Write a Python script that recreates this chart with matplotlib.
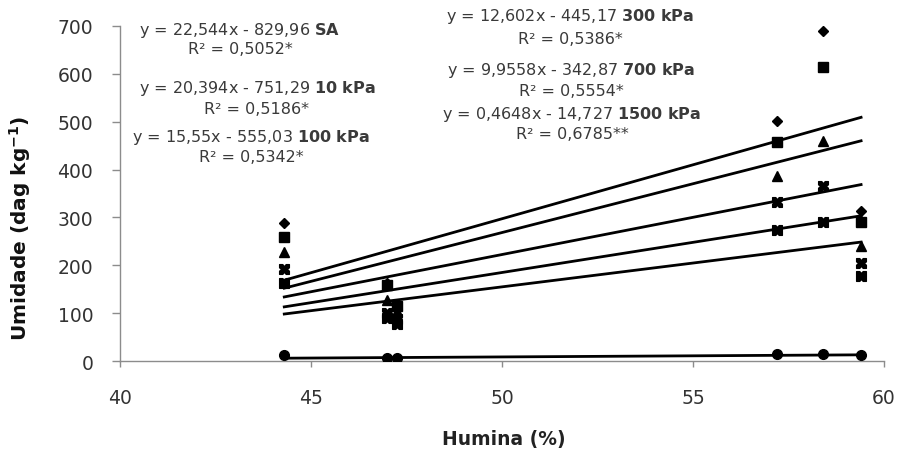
import matplotlib
matplotlib.use("Agg")
import matplotlib.pyplot as plt
import numpy as np
from matplotlib.path import Path

plt.rcParams['font.family'] = ['DejaVu Sans']
plt.rcParams['mathtext.fontset'] = 'dejavusans'

# ---- data ----
humina = [44.3, 47.0, 47.25, 57.2, 58.4, 59.4]
sa = [288, 163, 120, 502, 690, 314]
kpa10 = [259, 158, 115, 457, 615, 290]
kpa100 = [227, 127, 105, 386, 460, 241]
kpa300 = [192, 100, 88, 333, 366, 205]
kpa700 = [163, 90, 78, 273, 291, 178]
kpa1500 = [12, 6, 6, 15, 14, 12]

series_names = ["SA", "10 kPa", "100 kPa", "300 kPa", "700 kPa", "1500 kPa"]
slopes = [22.544, 20.394, 15.55, 12.602, 9.9558, 0.4648]
intercepts = [-829.96, -751.29, -555.03, -445.17, -342.87, -14.727]
eq_texts = ["y = 22,544x - 829,96", "y = 20,394x - 751,29", "y = 15,55x - 555,03",
            "y = 12,602x - 445,17", "y = 9,9558x - 342,87", "y = 0,4648x - 14,727"]
r2_texts = ["R² = 0,5052*", "R² = 0,5186*", "R² = 0,5342*",
            "R² = 0,5386*", "R² = 0,5554*", "R² = 0,6785**"]
xticks = [40, 45, 50, 55, 60]
yticks = [0, 100, 200, 300, 400, 500, 600, 700]

# ---- markers ----
notch_x = Path([(-1, -1), (-0.35, -1), (0, -0.55), (0.35, -1), (1, -1),
                (1, -0.35), (0.55, 0), (1, 0.35), (1, 1),
                (0.35, 1), (0, 0.55), (-0.35, 1), (-1, 1),
                (-1, 0.35), (-0.55, 0), (-1, -0.35), (-1, -1)], closed=True)
notch_tb = Path([(-1, -1), (-0.35, -1), (0, -0.6), (0.35, -1), (1, -1),
                 (1, 1), (0.35, 1), (0, 0.6), (-0.35, 1), (-1, 1), (-1, -1)], closed=True)
markers = ['D', 's', '^', notch_x, notch_tb, 'o']
msizes = [5.5, 6.5, 6.5, 7, 7, 7]

W, H = 905, 452
fig = plt.figure(figsize=(W / 100, H / 100), dpi=100)
ax = fig.add_axes([120 / W, 1 - 362 / H, (884 - 120) / W, (362 - 27) / H])

all_series = [sa, kpa10, kpa100, kpa300, kpa700, kpa1500]
xs = np.array(humina)
xfit = np.array([xs.min(), xs.max()])
for vals, m, ms, a, b in zip(all_series, markers, msizes, slopes, intercepts):
    ax.plot(xfit, a * xfit + b, color='black', lw=2.0, zorder=2)
    ax.plot(xs, vals, linestyle='none', marker=m, ms=ms, color='black',
            markeredgecolor='black', zorder=3)

ax.set_xlim(40, 60)
ax.set_ylim(0, 700)
ax.set_xticks(xticks)
ax.set_yticks(yticks)
for s in ['top', 'right']:
    ax.spines[s].set_visible(False)
for s in ['left', 'bottom']:
    ax.spines[s].set_color('#8c8c8c')
    ax.spines[s].set_linewidth(1.0)
ax.tick_params(axis='both', direction='out', width=1, color='#8c8c8c',
               labelsize=13.5, labelcolor='#333333')
ax.tick_params(axis='x', length=4.3, pad=15.5)
ax.tick_params(axis='y', length=5.8, pad=13.5)

fig.text(504 / W, 1 - 440 / H, "Humina (%)", ha='center', va='center',
         fontsize=13.5, fontweight='bold', color='#222222')
fig.text(20 / W, 1 - 228 / H, r"Umidade (dag kg$^{\mathbf{-1}}$)", ha='center', va='center',
         rotation=90, fontsize=14.5, fontweight='bold', color='#111111')

# annotations: (center x of block, y of eq line, y of R² line) in pixels
ann_pos = [(240, 30, 49), (257, 88, 109), (251, 138, 158),
           (570, 17, 39), (571, 70, 91), (572, 115, 135)]
for (cx, ye, yr), eq, r2, name in zip(ann_pos, eq_texts, r2_texts, series_names):
    label = r"$\mathbf{" + name.replace(" ", r"\ ") + "}$"
    fig.text(cx / W, 1 - ye / H, eq + " " + label, ha='center', va='center',
             fontsize=11.5, color='#3a3a3a')
    fig.text(cx / W, 1 - yr / H, r2, ha='center', va='center',
             fontsize=11.5, color='#3a3a3a')

fig.savefig("out.png", dpi=100)
